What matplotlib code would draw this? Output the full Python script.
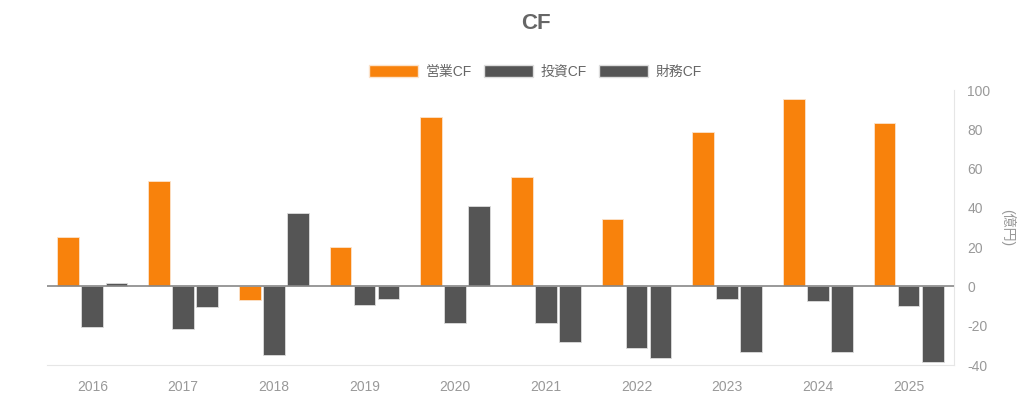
import numpy as np
import matplotlib.pyplot as plt
from matplotlib.patches import Patch

plt.rcParams['font.family'] = ['Liberation Sans', 'Noto Sans CJK JP', 'DejaVu Sans']

# data (億円)
years = ["2016", "2017", "2018", "2019", "2020", "2021", "2022", "2023", "2024", "2025"]
operating_cf = [25.1, 53.7, -6.9, 20.3, 86.4, 55.6, 34.4, 78.5, 95.4, 83.4]
investing_cf = [-20.7, -21.7, -35.1, -9.5, -18.8, -18.5, -31.3, -6.6, -7.6, -9.8]
financing_cf = [1.8, -10.3, 37.6, -6.4, 41.2, -28.5, -36.6, -33.5, -33.4, -38.3]
series_names = ["営業CF", "投資CF", "財務CF"]
yticks = [-40, -20, 0, 20, 40, 60, 80, 100]

orange = "#F8820C"
dark = "#555555"
text_gray = "#999999"

fig = plt.figure(figsize=(10.24, 3.99), dpi=100)
ax = fig.add_axes([0.0459, 0.0852, 0.8857, 0.6892])

x = np.arange(len(years))
w = 0.24
off = 0.265
ax.bar(x - off, operating_cf, w, color=orange, edgecolor="#fbe3cc", linewidth=0.6, zorder=2)
ax.bar(x, investing_cf, w, color=dark, edgecolor="#dddddd", linewidth=0.6, zorder=2)
ax.bar(x + off, financing_cf, w, color=dark, edgecolor="#dddddd", linewidth=0.6, zorder=2)

ax.set_xlim(-0.5, len(years) - 0.5)
ax.set_ylim(-40, 100)
ax.axhline(0, color="#888888", linewidth=1.2, zorder=3)

ax.yaxis.tick_right()
ax.yaxis.set_label_position("right")
ax.set_yticks(yticks)
ax.set_yticklabels([str(v) for v in yticks])
ax.set_xticks(x)
ax.set_xticklabels(years)
ax.tick_params(axis="both", length=0, colors=text_gray, labelsize=10)
ax.tick_params(axis="x", pad=11)
ax.tick_params(axis="y", pad=9.5)
for lab in ax.get_yticklabels():
    lab.set_horizontalalignment("left")

for side in ["top", "left"]:
    ax.spines[side].set_visible(False)
ax.spines["right"].set_color("#e6e6e6")
ax.spines["bottom"].set_color("#e6e6e6")

ax.set_ylabel("(億円)", rotation=270, color=text_gray, fontsize=10, labelpad=18)

fig.text(0.523, 0.94, "CF", ha="center", va="center", fontsize=16,
         fontweight="bold", color="#666666")

handles = [Patch(facecolor=orange, edgecolor="#fbe3cc"),
           Patch(facecolor=dark, edgecolor="#dddddd"),
           Patch(facecolor=dark, edgecolor="#dddddd")]
leg = fig.legend(handles, series_names, loc="center", bbox_to_anchor=(0.523, 0.82),
                 ncol=3, frameon=False, fontsize=10, handlelength=3.5, handleheight=1.0,
                 columnspacing=0.9, handletextpad=0.55)
for t in leg.get_texts():
    t.set_color("#666666")

fig.savefig("out.png", dpi=100)
